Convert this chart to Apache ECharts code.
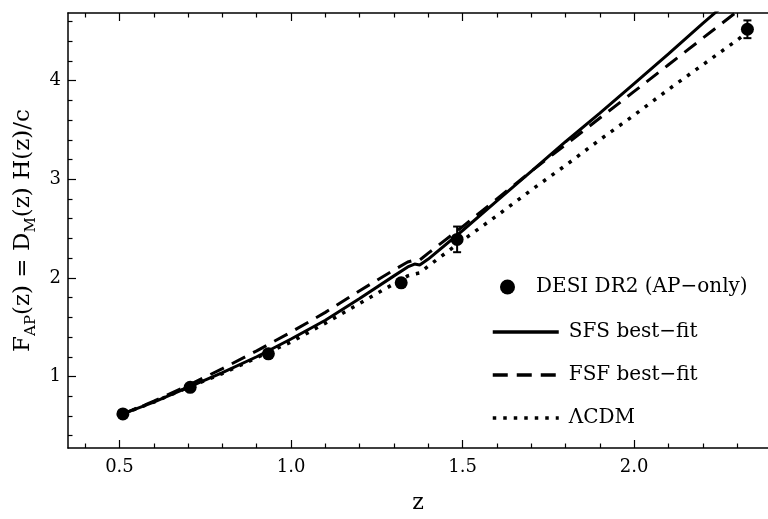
<!DOCTYPE html>
<html>
<head>
<meta charset="utf-8">
<script src="https://cdn.jsdelivr.net/npm/echarts@6/dist/echarts.min.js"></script>
<style>html,body{margin:0;padding:0;background:#fff;}#c{width:768px;height:519px;}</style>
</head>
<body>
<div id="c"></div>
<script>
// ---- data ----
const zCurve = [0.51,0.6,0.7,0.8,0.9,1.0,1.1,1.2,1.3,1.34,1.36,1.375,1.4,1.5,1.6,1.7,1.8,1.9,2.0,2.1,2.2,2.3,2.33];
const sfsFit  = [0.62,0.74,0.89,1.04,1.20,1.38,1.57,1.79,2.02,2.11,2.14,2.13,2.19,2.48,2.78,3.08,3.38,3.67,3.97,4.27,4.58,4.88,4.97];
const fsfFit  = [0.62,0.75,0.91,1.08,1.26,1.45,1.65,1.87,2.08,2.16,2.18,2.18,2.25,2.52,2.80,3.08,3.35,3.62,3.89,4.16,4.43,4.70,4.78];
const lcdm    = [0.62,0.74,0.89,1.03,1.19,1.35,1.54,1.74,1.94,2.02,2.04,2.05,2.12,2.38,2.63,2.89,3.14,3.40,3.65,3.91,4.16,4.41,4.49];

const zData   = [0.51,0.706,0.934,1.321,1.484,2.33];
const fapData = [0.62,0.89,1.23,1.95,2.39,4.52];
const fapErr  = [0.01,0.015,0.02,0.02,0.13,0.09];

const xMajor = [0.5,1.0,1.5,2.0];
const xMinor = [0.4,0.6,0.7,0.8,0.9,1.1,1.2,1.3,1.4,1.6,1.7,1.8,1.9,2.1,2.2,2.3];
const yMajor = [1,2,3,4];
const yMinor = [0.4,0.6,0.8,1.2,1.4,1.6,1.8,2.2,2.4,2.6,2.8,3.2,3.4,3.6,3.8,4.2,4.4,4.6];

const names = ['DESI DR2 (AP\u2212only)','SFS best\u2212fit','FSF best\u2212fit','\u039BCDM'];

const FONT = 'DejaVu Serif';
const zip = (a,b) => a.map((v,i)=>[v,b[i]]);

const xMin = 0.35, xMax = 2.39, yMin = 0.275, yMax = 4.685;
const axLine = {show:true, lineStyle:{color:'#000', width:1.5}};
function xAx(pos, vals, len, labels, line){
  return {type:'value', position:pos, min:xMin, max:xMax,
    axisLine: line ? axLine : {show:false},
    axisTick:{show:true, inside:true, length:len, customValues:vals, lineStyle:{color:'#000', width:1.2}},
    axisLabel: labels ? {show:true, customValues:vals, formatter:v=>Number(v).toFixed(1), color:'#000', fontFamily:FONT, fontSize:18, margin:10} : {show:false},
    splitLine:{show:false}};
}
function yAx(vals, len, labels, line){
  return {type:'value', position:'left', min:yMin, max:yMax,
    axisLine: line ? axLine : {show:false},
    axisTick:{show:true, inside:true, length:len, customValues:vals, lineStyle:{color:'#000', width:1.2}},
    axisLabel: labels ? {show:true, customValues:vals, formatter:v=>String(Math.round(v)), color:'#000', fontFamily:FONT, fontSize:18, margin:7} : {show:false},
    splitLine:{show:false}};
}

const xAxes = [xAx('bottom', xMajor, 8, true, true), xAx('bottom', xMinor, 4.5, false, false),
               xAx('top', xMajor, 8, false, true), xAx('top', xMinor, 4.5, false, false)];
xAxes[0].name = 'z';
xAxes[0].nameLocation = 'middle';
xAxes[0].nameGap = 44;
xAxes[0].nameTextStyle = {color:'#000', fontFamily:FONT, fontSize:22};

const yAxes = [yAx(yMajor, 8, true, true), yAx(yMinor, 4.5, false, false)];
yAxes[0].name = '{n|F}{s|AP}{n|(z) = D}{s|M}{n|(z) H(z)/c}';
yAxes[0].nameLocation = 'middle';
yAxes[0].nameGap = 29;
yAxes[0].nameRotate = 90;
yAxes[0].nameTextStyle = {color:'#000', fontFamily:FONT, fontSize:23,
  rich:{ n:{fontFamily:FONT, fontSize:23, color:'#000', lineHeight:32},
         s:{fontFamily:FONT, fontSize:15, color:'#000', lineHeight:18, verticalAlign:'bottom'} }};

const chart = echarts.init(document.getElementById('c'), null, {renderer:'canvas'});
chart.setOption({
  animation:false,
  backgroundColor:'#fff',
  grid:{left:68, right:-2, top:13, bottom:68, containLabel:false},
  xAxis: xAxes,
  yAxis: yAxes,
  legend:[
    {data:[names[0]], orient:'vertical', left:495, top:272, icon:'circle', itemWidth:15, itemHeight:15,
     itemStyle:{opacity:1},
     textStyle:{color:'#000', fontFamily:FONT, fontSize:20, padding:[0,0,0,16]}, selectedMode:false},
    {data:names.slice(1), orient:'vertical', left:486, top:317, itemWidth:66, itemHeight:20, itemGap:23,
     itemStyle:{opacity:0}, lineStyle:{width:3.5, color:'#000'},
     textStyle:{color:'#000', fontFamily:FONT, fontSize:20, padding:[0,0,0,5]}, selectedMode:false}
  ],
  series:[
    {name:names[1], type:'line', data:zip(zCurve,sfsFit), showSymbol:false, symbol:'none', clip:true,
     lineStyle:{color:'#000', width:3, type:'solid'}, itemStyle:{color:'#000'}, z:3},
    {name:names[2], type:'line', data:zip(zCurve,fsfFit), showSymbol:false, symbol:'none', clip:true,
     lineStyle:{color:'#000', width:3, type:[15,9]}, itemStyle:{color:'#000'}, z:3},
    {name:names[3], type:'line', data:zip(zCurve,lcdm), showSymbol:false, symbol:'none', clip:true,
     lineStyle:{color:'#000', width:3.5, type:[3.5,7]}, itemStyle:{color:'#000'}, z:3},
    {name:names[0], type:'scatter', data:zip(zData,fapData), symbol:'circle', symbolSize:13,
     itemStyle:{color:'#000', opacity:1}, z:5},
    {name:'err', type:'custom', data:zData.map((z,i)=>[z,fapData[i]-fapErr[i],fapData[i]+fapErr[i]]), z:5,
     renderItem:(params, api)=>{
       const lo = api.coord([api.value(0), api.value(1)]);
       const hi = api.coord([api.value(0), api.value(2)]);
       const w = 4;
       const st = {stroke:'#000', lineWidth:2};
       return {type:'group', children:[
         {type:'line', shape:{x1:lo[0],y1:lo[1],x2:hi[0],y2:hi[1]}, style:st},
         {type:'line', shape:{x1:lo[0]-w,y1:lo[1],x2:lo[0]+w,y2:lo[1]}, style:st},
         {type:'line', shape:{x1:hi[0]-w,y1:hi[1],x2:hi[0]+w,y2:hi[1]}, style:st}
       ]};
     }}
  ]
});
</script>
</body>
</html>
